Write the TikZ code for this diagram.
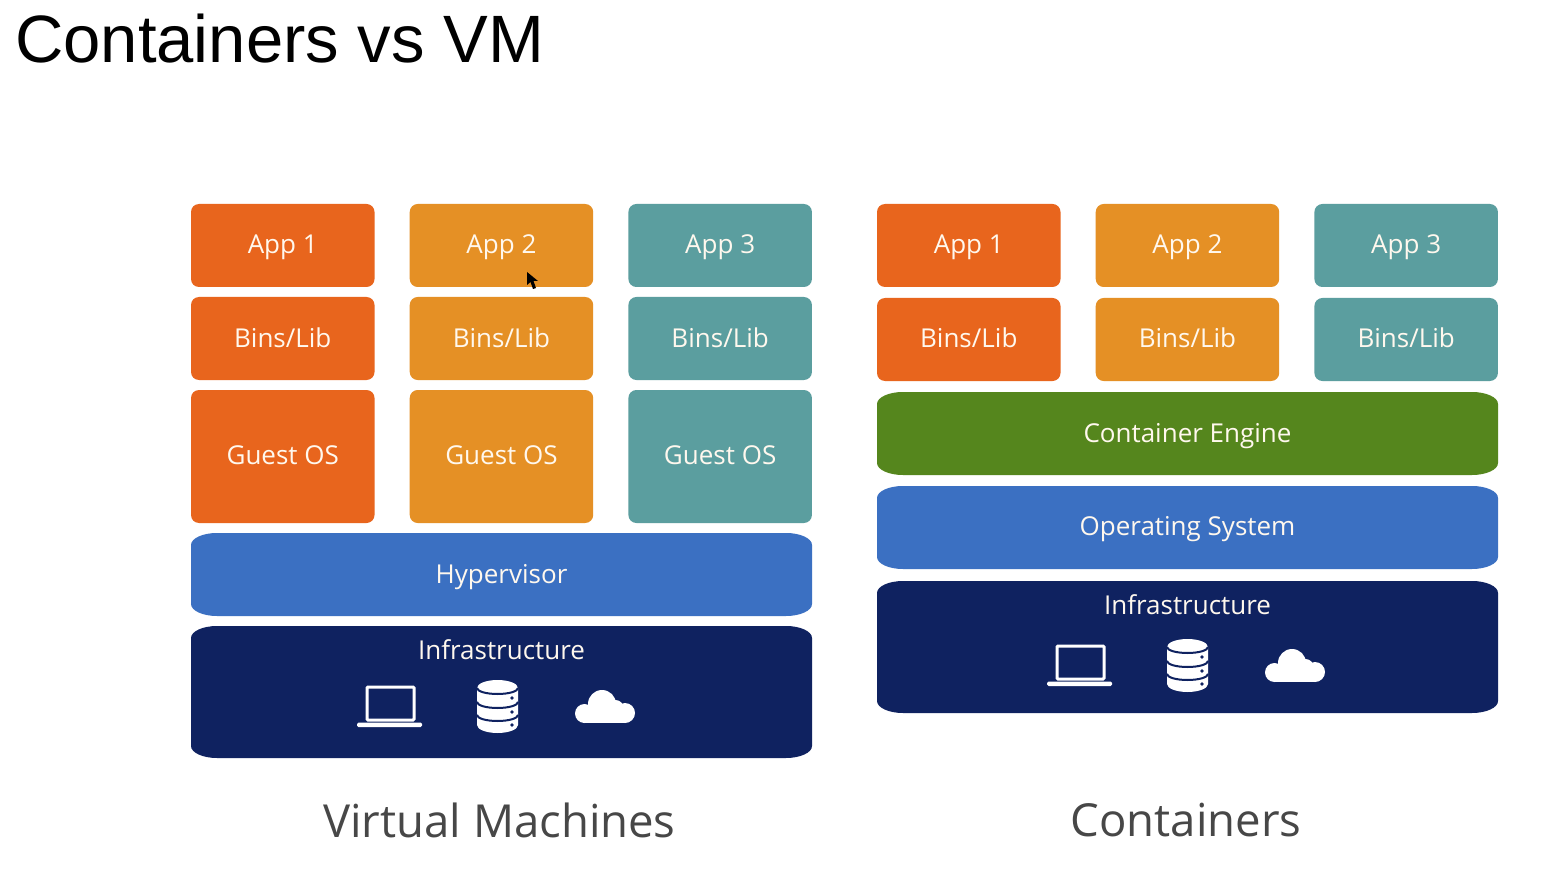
\documentclass[tikz,border=0pt]{standalone}
\usepackage{fontspec}
\setmainfont{Open Sans}
\newfontfamily\titlefont{Liberation Sans}
\usetikzlibrary{positioning}

\definecolor{appA}{HTML}{E8651D}
\definecolor{appB}{HTML}{E59025}
\definecolor{appC}{HTML}{5B9E9F}
\definecolor{engine}{HTML}{55861D}
\definecolor{hyper}{HTML}{3B70C2}
\definecolor{infra}{HTML}{0F2260}
\definecolor{labeltext}{HTML}{FFF8EE}

\tikzset{
  block/.style={rectangle, rounded corners=8pt, inner sep=0pt, outer sep=0pt, minimum width=183.5pt, minimum height=83pt, text=labeltext, text height=20pt, text depth=3pt, font=\fontsize{26}{31}\selectfont},
  guest/.style={block, minimum height=133pt, text depth=4pt},
  layertext/.style={inner sep=0pt, outer sep=0pt, text=labeltext, text height=20pt, text depth=3pt, font=\fontsize{26}{31}\selectfont},
  caption/.style={inner sep=0pt, outer sep=0pt, text=black!72, font=\fontsize{45.5}{54}\selectfont},
  pics/stackicons/.style={code={
    % laptop
    \draw[white, line width=3pt, rounded corners=1pt] (-130.5,-20) rectangle (-83.5,13);
    \fill[white, rounded corners=1.5pt] (-140.5,15.5) rectangle (-75.5,20);
    % database
    \fill[white] (-20.5,-19) arc[start angle=180, end angle=0, x radius=20.5, y radius=-8] -- (20.5,18) arc[start angle=0, end angle=180, x radius=20.5, y radius=8] -- cycle;
    \foreach \ypos in {-14,0,13}
      \draw[infra, line width=2pt] (-20.5,\ypos-5) arc[start angle=180, end angle=360, x radius=20.5, y radius=-6];
    \foreach \ypos in {-9,5,18}
      \fill[infra] (14.5,\ypos) circle (1.8);
    % cloud
    \fill[white] (104.5,-3) circle (14) (87,6.5) circle (9.5) (127.5,6) circle (10) (118,1) circle (8);
    \fill[white] (87,4) rectangle (127.5,16);
  }}
}

% left, top, right, bottom, colour
\newcommand{\layerbar}[5]{
  \fill[#5] (#1,#2+12) arc[start angle=180, end angle=90, x radius=26, y radius=-12] -- (#3-26,#2) arc[start angle=90, end angle=0, x radius=26, y radius=-12] -- (#3,#4-12) arc[start angle=0, end angle=-90, x radius=26, y radius=-12] -- (#1+26,#4) arc[start angle=-90, end angle=-180, x radius=26, y radius=-12] -- cycle;
}

\begin{document}
\begin{tikzpicture}[x=1pt, y=-1pt]
  \useasboundingbox (0,0) rectangle (1541,874);
  \fill[white] (0,0) rectangle (1541,874);

  \node[anchor=base west, inner sep=0pt, font=\titlefont\fontsize{67}{80}\selectfont] (heading) at (15,63) {Containers vs VM};

  % virtual machines
  \node[block, fill=appA, anchor=north west] (vmAppA) at (191,204) {App 1};
  \node[block, fill=appB, right=35.2pt of vmAppA] (vmAppB) {App 2};
  \node[block, fill=appC, right=35.2pt of vmAppB] (vmAppC) {App 3};
  \node[block, fill=appA, below=10pt of vmAppA] (vmLibA) {Bins/Lib};
  \node[block, fill=appB, below=10pt of vmAppB] (vmLibB) {Bins/Lib};
  \node[block, fill=appC, below=10pt of vmAppC] (vmLibC) {Bins/Lib};
  \node[guest, fill=appA, below=10pt of vmLibA] (vmOsA) {Guest OS};
  \node[guest, fill=appB, below=10pt of vmLibB] (vmOsB) {Guest OS};
  \node[guest, fill=appC, below=10pt of vmLibC] (vmOsC) {Guest OS};

  \layerbar{191}{533}{812}{616}{hyper}
  \node[layertext] (hypervisor) at (501.5,574.5) {Hypervisor};
  \layerbar{191}{626}{812}{758}{infra}
  \node[layertext] (vmInfra) at (501.5,651) {Infrastructure};
  \pic at (497.5,707) {stackicons};

  % containers
  \node[block, fill=appA, anchor=north west] (ctAppA) at (877,204) {App 1};
  \node[block, fill=appB, right=35.2pt of ctAppA] (ctAppB) {App 2};
  \node[block, fill=appC, right=35.2pt of ctAppB] (ctAppC) {App 3};
  \node[block, fill=appA, below=11pt of ctAppA] (ctLibA) {Bins/Lib};
  \node[block, fill=appB, below=11pt of ctAppB] (ctLibB) {Bins/Lib};
  \node[block, fill=appC, below=11pt of ctAppC] (ctLibC) {Bins/Lib};

  \layerbar{877}{392}{1498}{475}{engine}
  \node[layertext] (ctEngine) at (1187.5,433.5) {Container Engine};
  \layerbar{877}{486}{1498}{569}{hyper}
  \node[layertext] (ctSystem) at (1187.5,527) {Operating System};
  \layerbar{877}{581}{1498}{713}{infra}
  \node[layertext] (ctInfra) at (1187.5,606) {Infrastructure};
  \pic at (1187.5,666) {stackicons};

  \node[caption] (vmCaption) at (499.5,820) {Virtual Machines};
  \node[caption] (ctCaption) at (1186,820) {Containers};

  % mouse pointer
  \fill[black] (527,272) -- (527,285) -- (530.5,282) -- (533,289) -- (536,288) -- (533.5,281) -- (538,281) -- cycle;
\end{tikzpicture}
\end{document}
